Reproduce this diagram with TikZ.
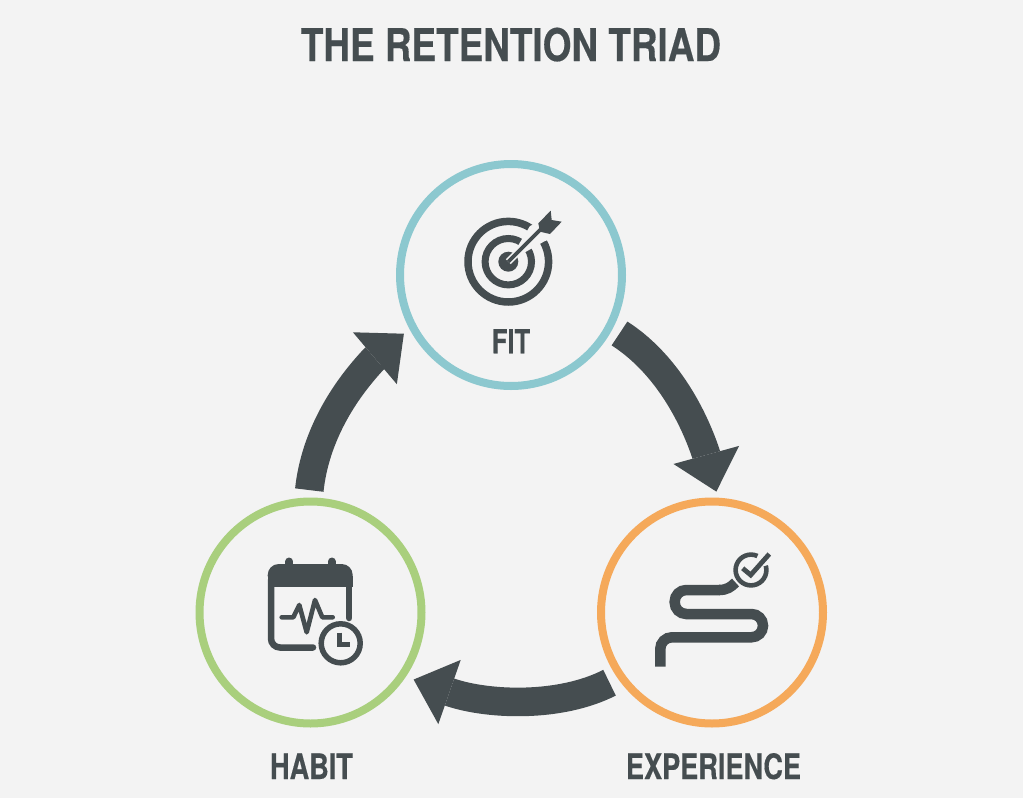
\documentclass[tikz,border=0pt]{standalone}
\usepackage{fontspec}
\usetikzlibrary{arrows.meta}
\newfontfamily\titlefont[FakeStretch=0.82,FakeBold=0.35]{TeX Gyre Heros}
\newfontfamily\labelfont[FakeStretch=0.775,FakeBold=0.35]{TeX Gyre Heros}
\definecolor{bgc}{HTML}{F3F3F3}
\definecolor{ink}{HTML}{454D50}
\definecolor{teal}{HTML}{8CC8CF}
\definecolor{leaf}{HTML}{A9CF7D}
\definecolor{amber}{HTML}{F5A95A}
\tikzset{
  ring/.style={circle,draw=#1,line width=8pt,minimum size=222pt,inner sep=0pt,outer sep=4pt,fill=none},
  flow/.style={draw=ink,line width=28.6pt,-{Triangle[length=38pt,width=68pt,line width=0pt,fill=ink]}},
  titletext/.style={text=ink,anchor=base,inner sep=0pt,font=\titlefont\bfseries\fontsize{45}{45}\selectfont},
  nametext/.style={text=ink,anchor=base,inner sep=0pt,font=\labelfont\bfseries\fontsize{35}{35}\selectfont},
  icon/.style={draw=ink,line cap=round,line join=round,fill=none},
}
\begin{document}
\begin{tikzpicture}[x=1pt,y=-1pt]
\useasboundingbox (0,0) rectangle (1023,798);
\fill[bgc] (0,0) rectangle (1023,798);
\node[titletext] (title) at (511,61) {THE RETENTION TRIAD};
\node[ring=teal] (fit) at (511,275) {};
\node[ring=leaf] (habit) at (310.5,612.5) {};
\node[ring=amber] (exp) at (712,612.5) {};
\node[nametext,font=\labelfont\bfseries\fontsize{33}{33}\selectfont] (fitlabel) at (511,353.3) {FIT};
\node[nametext] (habitlabel) at (311.5,779) {HABIT};
\node[nametext] (explabel) at (713.5,779) {EXPERIENCE};
% connectors
\draw[flow,shorten <=8.3pt,shorten >=6.3pt] (fit.-28.7) .. controls (664,362) and (692,412) .. (706,454) -- (exp.87.9);
\draw[flow,shorten <=9.3pt,shorten >=8.25pt] (exp.215.3) .. controls (560,708) and (488.8,705.1) .. (450.85,692.5) -- (habit.-34.3);
\draw[flow,shorten <=7.5pt,shorten >=7.3pt] (habit.91.1) .. controls (315,437) and (343,392) .. (374,359) -- (fit.208.2);
% target icon
\draw[ink,line width=7.5pt] (508.3,261.7) circle[radius=40.3pt];
\draw[ink,line width=7pt] (508.3,261.7) circle[radius=23.2pt];
\fill[ink] (508.3,261.7) circle[radius=10pt];
\fill[bgc] (508.3,261.7) -- (530,226) -- (552,216) -- (548,240) -- (545,241) -- cycle;
\draw[bgc,line width=7pt] (508.3,261.7) -- (530,240);
\draw[ink,line width=3.6pt] (508.3,261.7) -- (541,229);
\fill[ink] (538.3,223.3) -- (550.7,210.7) -- (551.7,220) -- (561.7,221.7) -- (550,234) -- (540,231.7) -- cycle;
% calendar icon
\fill[ink,rounded corners=11pt] (267.7,586.7) -- (267.7,564) -- (352.7,564) -- (352.7,586.7) -- cycle;
\fill[ink] (267.7,576) rectangle (352.7,586.7);
\draw[icon,line width=8pt] (289.3,561.5) -- (289.3,567);
\draw[icon,line width=8pt] (331.7,561.5) -- (331.7,567);
\draw[ink,line width=6.5pt,line cap=round] (349.2,580) -- (349.2,618);
\draw[ink,line width=6.5pt,line cap=round,rounded corners=9pt] (271,580) -- (271,647.5) -- (313,647.5);
\draw[icon,line width=4.6pt] (281.7,617.3) -- (293.3,617.3) -- (299.3,605) -- (306.7,632.3) -- (315,600) -- (322.3,617.3) -- (332.7,617.3);
\draw[ink,line width=5.5pt] (340.7,643.3) circle[radius=19.5pt];
\draw[icon,line width=4.5pt,line cap=butt,line join=miter] (339.3,632.5) -- (339.3,644.3) -- (350,644.3);
% journey icon
\draw[ink,line width=10.5pt,rounded corners=11.6pt] (660.3,666.7) -- (660.3,637.3) -- (763,637.3) -- (763,614) -- (674.7,614) -- (674.7,590) -- (720,590);
\draw[ink,line width=10.5pt] (719,590) .. controls (727,590) and (731,587) .. (735.5,582.5);
\draw[ink,line width=4.6pt] (751,570) circle[radius=15.4pt];
\fill[bgc] (751,570) -- (775.5,562.7) -- (776,546) -- (762.3,546) -- cycle;
\draw[icon,line width=4.8pt,line cap=butt,line join=miter] (742.7,568.3) -- (750.7,575) -- (769.3,554);
\end{tikzpicture}
\end{document}
